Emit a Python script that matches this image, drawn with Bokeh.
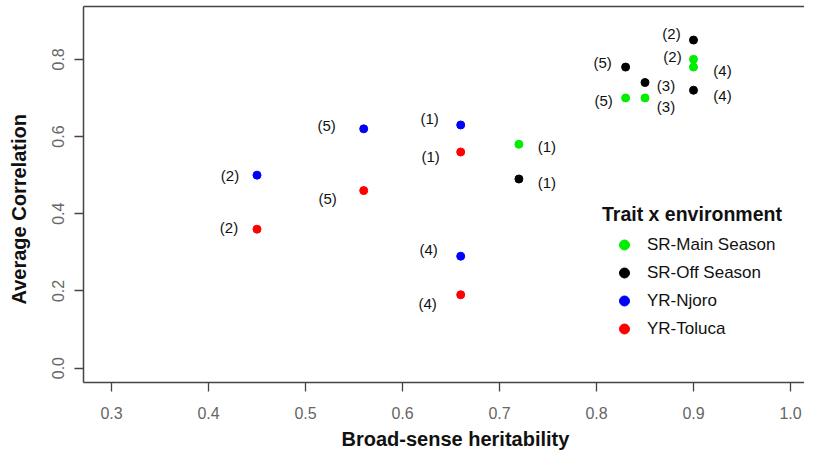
from bokeh.plotting import figure
from bokeh.models import (ColumnDataSource, Legend, LegendItem, LinearAxis, FixedTicker,
                          Range1d, Title, PrintfTickFormatter)
from bokeh.core.properties import value
from bokeh.embed import file_html
from bokeh.resources import INLINE

# ---- data ----
groups = ["SR-Main Season", "SR-Off Season", "YR-Njoro", "YR-Toluca"]
colors = ["#00EE00", "#000000", "#0000FF", "#FF0000"]

sr_main_h = [0.72, 0.90, 0.85, 0.90, 0.83]
sr_main_r = [0.58, 0.80, 0.70, 0.78, 0.70]
sr_main_id = ["(1)", "(2)", "(3)", "(4)", "(5)"]

sr_off_h = [0.72, 0.90, 0.85, 0.90, 0.83]
sr_off_r = [0.49, 0.85, 0.74, 0.72, 0.78]
sr_off_id = ["(1)", "(2)", "(3)", "(4)", "(5)"]

yr_njoro_h = [0.66, 0.45, 0.66, 0.56]
yr_njoro_r = [0.63, 0.50, 0.29, 0.62]
yr_njoro_id = ["(1)", "(2)", "(4)", "(5)"]

yr_toluca_h = [0.66, 0.45, 0.66, 0.56]
yr_toluca_r = [0.56, 0.36, 0.19, 0.46]
yr_toluca_id = ["(1)", "(2)", "(4)", "(5)"]

x_ticks = [0.3, 0.4, 0.5, 0.6, 0.7, 0.8, 0.9, 1.0]
y_ticks = [0.0, 0.2, 0.4, 0.6, 0.8]

x_title = "Broad-sense heritability"
y_title = "Average Correlation"
legend_title = "Trait x environment"

# label offsets in screen pixels (style)
sr_main_dx = [28, -21, 21, 29, -22]
sr_main_dy = [2, -3, 9, 3, 3]
sr_off_dx = [28, -22, 21, 29, -23]
sr_off_dy = [3, -7, 3, 5, -5]
yr_njoro_dx = [-31, -27, -32, -37]
yr_njoro_dy = [-6, 0, -7, -3]
yr_toluca_dx = [-30, -28, -33, -36]
yr_toluca_dy = [5, -2, 9, 8]

FONT = "Liberation Sans"
AXIS_COL = "#444444"

p = figure(width=804, height=454, output_backend="svg", toolbar_location=None,
           x_range=Range1d(0.27113, 1.01443), y_range=Range1d(-0.0373, 0.937),
           min_border_left=83, min_border_right=0, min_border_top=6, min_border_bottom=70)
p.outline_line_color = None
p.xgrid.visible = False
p.ygrid.visible = False
p.background_fill_color = "white"
p.border_fill_color = "white"

for ax in (p.xaxis[0], p.yaxis[0]):
    ax.axis_line_color = AXIS_COL
    ax.axis_line_width = 1.5
    ax.major_tick_line_color = AXIS_COL
    ax.major_tick_line_width = 1.3
    ax.major_tick_out = 9
    ax.major_tick_in = 0
    ax.minor_tick_line_color = None
    ax.major_label_text_font = FONT
    ax.major_label_text_font_size = "16px"
    ax.major_label_text_color = "#666666"
    ax.formatter = PrintfTickFormatter(format="%.1f")

p.xaxis.ticker = FixedTicker(ticks=x_ticks)
p.yaxis.ticker = FixedTicker(ticks=y_ticks)
p.xaxis.major_label_standoff = 15
p.yaxis.major_label_standoff = 10
p.yaxis.major_label_orientation = "vertical"

# top border line
top = LinearAxis(ticker=FixedTicker(ticks=[]), axis_line_color=AXIS_COL, axis_line_width=1.5,
                 major_tick_line_color=None, minor_tick_line_color=None,
                 major_label_text_font_size="0px", major_label_standoff=0)
p.add_layout(top, "above")

# invisible spacer between the y axis and its title
spacer = LinearAxis(ticker=FixedTicker(ticks=[0.4]), axis_line_color=None,
                    major_tick_line_color=None, minor_tick_line_color=None,
                    major_tick_out=20, major_tick_in=0,
                    major_label_text_font_size="1px", major_label_text_color=None,
                    major_label_standoff=0)
p.add_layout(spacer, "left")

series = [
    (sr_main_h, sr_main_r, sr_main_id, sr_main_dx, sr_main_dy),
    (sr_off_h, sr_off_r, sr_off_id, sr_off_dx, sr_off_dy),
    (yr_njoro_h, yr_njoro_r, yr_njoro_id, yr_njoro_dx, yr_njoro_dy),
    (yr_toluca_h, yr_toluca_r, yr_toluca_id, yr_toluca_dx, yr_toluca_dy),
]

items = []
for (h, r, ids, dx, dy), name, col in zip(series, groups, colors):
    src = ColumnDataSource(dict(x=h, y=r, lab=ids, dx=dx, dy=dy))
    rend = p.scatter("x", "y", source=src, size=8, color=col, line_color=col)
    p.text("x", "y", text="lab", source=src, x_offset="dx", y_offset="dy",
           text_font=value(FONT), text_font_size="15px", text_color="#111111",
           text_align="center", text_baseline="middle")
    items.append(LegendItem(label=name, renderers=[rend]))

legend = Legend(items=items, location=(519, 41), title=legend_title,
                title_text_font=FONT, title_text_font_style="bold", title_text_font_size="19.5px",
                title_text_color="#111111", title_standoff=6,
                label_text_font=FONT, label_text_font_size="17px", label_text_color="#111111",
                glyph_width=44, glyph_height=25, label_height=25, spacing=3, label_standoff=1,
                padding=0, margin=0, border_line_color=None, background_fill_alpha=0)
p.add_layout(legend, "center")

# axis titles
p.add_layout(Title(text=x_title, align="left", offset=258, standoff=9,
                   text_font=FONT, text_font_style="bold", text_font_size="20px",
                   text_color="#111111"), "below")
p.add_layout(Title(text=y_title, align="left", offset=78, standoff=0,
                   text_font=FONT, text_font_style="bold", text_font_size="20px",
                   text_color="#111111"), "left")

open("out.html", "w").write(file_html(p, INLINE))
